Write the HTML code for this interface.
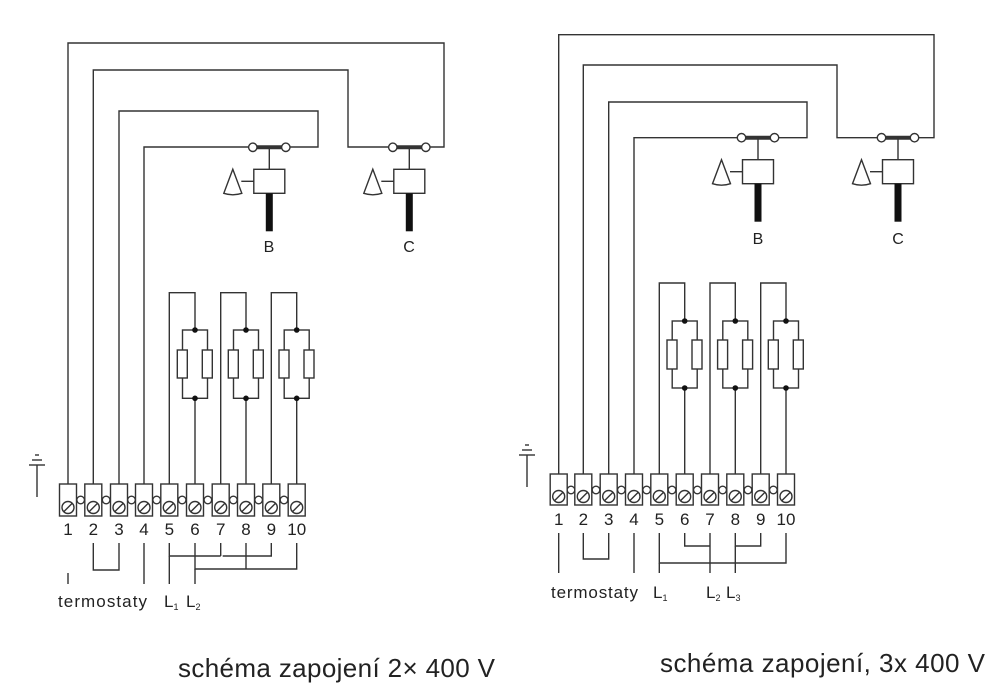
<!DOCTYPE html>
<html><head><meta charset="utf-8"><style>
html,body{margin:0;padding:0;background:#fff;}
svg{display:block;}
text{font-family:"Liberation Sans",sans-serif;fill:#222;}
</style></head><body>
<svg id="s" width="1000" height="698" viewBox="0 0 1000 698" xmlns="http://www.w3.org/2000/svg">
<g id="g" fill="none" stroke="#333" stroke-width="1.4"></g>
<g font-size="17" text-anchor="middle">
<text x="68" y="535">1</text><text x="93.3" y="535">2</text><text x="119" y="535">3</text><text x="144" y="535">4</text><text x="169.3" y="535">5</text><text x="195" y="535">6</text><text x="220.7" y="535">7</text><text x="246" y="535">8</text><text x="271.3" y="535">9</text><text x="296.7" y="535">10</text>
<text x="558.7" y="525">1</text><text x="583.3" y="525">2</text><text x="608.7" y="525">3</text><text x="634" y="525">4</text><text x="659.3" y="525">5</text><text x="684.7" y="525">6</text><text x="710" y="525">7</text><text x="735.3" y="525">8</text><text x="760.7" y="525">9</text><text x="786" y="525">10</text>
</g>
<g font-size="16" text-anchor="middle">
<text x="269" y="252">B</text><text x="409" y="252">C</text>
<text x="758" y="244">B</text><text x="898" y="244">C</text>
</g>
<g font-size="17">
<text x="58" y="607" textLength="89">termostaty</text>
<text x="164" y="607">L<tspan font-size="9" dy="3">1</tspan></text>
<text x="186" y="607">L<tspan font-size="9" dy="3">2</tspan></text>
<text x="551" y="598" textLength="87">termostaty</text>
<text x="653" y="598">L<tspan font-size="9" dy="3">1</tspan></text>
<text x="706" y="598">L<tspan font-size="9" dy="3">2</tspan></text>
<text x="726" y="598">L<tspan font-size="9" dy="3">3</tspan></text>
</g>
<g font-size="26">
<text x="178" y="677" textLength="317">schéma zapojení 2× 400 V</text>
<text x="660" y="672" textLength="325">schéma zapojení, 3x 400 V</text>
</g>
</svg>
<script>
var g=document.getElementById('g'),NS='http://www.w3.org/2000/svg';
function el(t,a){var e=document.createElementNS(NS,t);for(var k in a)e.setAttribute(k,a[k]);g.appendChild(e);return e;}
function pl(p,extra){var a={points:p};for(var k in extra)a[k]=extra[k];el('polyline',a);}
function L(x1,y1,x2,y2,w){el('line',{x1:x1,y1:y1,x2:x2,y2:y2,'stroke-width':w||1.4});}
function valve(cx,cy,r){
  L(cx-16,cy,cx+16,cy,4);
  el('circle',{cx:cx-16.5,cy:cy,r:4.2,fill:'#fff'});
  el('circle',{cx:cx+16.5,cy:cy,r:4.2,fill:'#fff'});
  L(cx,cy,cx,cy+22);
  el('rect',{x:cx-15.5,y:cy+22,width:31,height:24,fill:'#fff'});
  L(cx-28,cy+34,cx-15.5,cy+34);
  el('path',{d:'M'+(cx-36.5)+','+(cy+22)+' L'+(cx-45.5)+','+(cy+46)+' Q'+(cx-36.5)+','+(cy+49)+' '+(cx-27.5)+','+(cy+46)+' Z',fill:'#fff'});
  el('rect',{x:cx-3.5,y:cy+46,width:7,height:38,fill:'#111',stroke:'none'});
}
function diagram(xs,bt,bb,ht,hd,rt,rb,hb){
  for(var i=0;i<10;i++){
    var x=xs[i];
    el('rect',{x:x-8.5,y:bt,width:17,height:bb-bt,fill:'#fff'});
    var cy=bb-8.5;
    el('circle',{cx:x,cy:cy,r:6,fill:'#fff'});
    L(x-4,cy+4,x+4,cy-4);
    if(i<9) el('circle',{cx:(x+xs[i+1])/2,cy:bt+16,r:3.8,fill:'#fff'});
  }
  for(var k=0;k<3;k++){
    var a=xs[4+2*k],b=xs[5+2*k];
    pl(a+','+bt+' '+a+','+ht+' '+b+','+ht+' '+b+','+hd);
    L(b,hb,b,bt);
    el('rect',{x:b-12.5,y:hd,width:25,height:hb-hd});
    el('rect',{x:b-17.7,y:rt,width:10,height:rb-rt,fill:'#fff'});
    el('rect',{x:b+7.3,y:rt,width:10,height:rb-rt,fill:'#fff'});
    el('circle',{cx:b,cy:hd,r:2.8,fill:'#111',stroke:'none'});
    el('circle',{cx:b,cy:hb,r:2.8,fill:'#111',stroke:'none'});
  }
}
var A=[68,93.3,119,144,169.3,195,220.7,246,271.3,296.7];
diagram(A,484,516,292.7,330,350,378,398.3);
pl('68,484 68,43 444,43 444,147 430,147');
pl('93.3,484 93.3,70 348,70 348,147 388,147');
pl('119,484 119,111 318,111 318,147 290,147');
pl('144,484 144,147 248,147');
valve(269.3,147.3); valve(409.3,147.3);
L(37,465,37,497); L(29,465,45,465); L(32,460,42,460); L(35,455,39,455);
pl('93.3,543 93.3,570 119,570 119,543');
pl('169.3,543 169.3,556 220.7,556'); L(220.7,543,220.7,556); pl('222.7,556 271.3,556 271.3,543');
pl('195,543 195,569 296.7,569 296.7,543'); L(246,543,246,569);
L(68,573,68,584); L(144,543,144,584); L(169.3,556,169.3,584); L(195,569,195,584);

var B=[558.7,583.3,608.7,634,659.3,684.7,710,735.3,760.7,786];
diagram(B,474,505,283,321,340,369,388);
pl('558.7,474 558.7,34.7 934,34.7 934,137.7 918,137.7');
pl('583.3,474 583.3,65 837,65 837,137.7 877,137.7');
pl('608.7,474 608.7,102 807,102 807,137.7 778,137.7');
pl('634,474 634,137.7 737,137.7');
valve(758,137.7); valve(898,137.7);
L(527,455,527,487); L(519,455,535,455); L(522,450,532,450); L(525,445,529,445);
pl('583.3,533 583.3,559 608.7,559 608.7,533');
pl('684.7,533 684.7,546 710,546');
pl('735.3,533 735.3,546 760.7,546 760.7,533');
pl('659.3,533 659.3,563 786,563 786,533');
L(710,533,710,573); L(735.3,546,735.3,573);
L(558.7,533,558.7,573); L(634,533,634,573); L(659.3,563,659.3,573);
</script>
</body></html>
